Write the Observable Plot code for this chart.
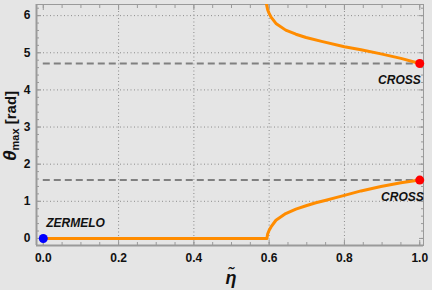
<!DOCTYPE html>
<html><head><meta charset="utf-8">
<script src="https://cdn.jsdelivr.net/npm/d3@7"></script>
<script src="https://cdn.jsdelivr.net/npm/@observablehq/plot@0.6"></script>
<style>
html,body{margin:0;padding:0;background:#e5e5e5;}
svg{display:block;}
</style></head><body><div id="chart"></div>
<script>
// Lower branch
const lowEta   = [0, 0.594, 0.596, 0.600, 0.605, 0.618, 0.644, 0.671, 0.698, 0.724, 0.751, 0.777, 0.800, 0.844, 0.897, 0.950, 1.000];
const lowTheta = [0, 0,     0.12,  0.22,  0.31,  0.49,  0.67,  0.79,  0.88,  0.96,  1.03,  1.10,  1.16,  1.28,  1.40,  1.50,  1.571];
// Upper branch
const upEta   = [0.593, 0.596, 0.600, 0.605, 0.618, 0.644, 0.671, 0.698, 0.742, 0.800, 0.844, 0.897, 0.950, 1.000];
const upTheta = [6.30,  6.16,  6.06,  5.96,  5.79,  5.61,  5.50,  5.41,  5.30,  5.16,  5.08,  4.97,  4.85,  4.712];
// Reference levels
const refLevels = [1.5708, 4.7124];
// Special points
const crossPts = [{eta: 1, theta: 1.5708}, {eta: 1, theta: 4.7124}];
const zermeloPt = [{eta: 0, theta: 0}];
const xTicks = [0, 0.2, 0.4, 0.6, 0.8, 1.0];
const yTicks = [0, 1, 2, 3, 4, 5, 6];

const low = lowEta.map((e, i) => ({eta: e, theta: lowTheta[i]}));
const up = upEta.map((e, i) => ({eta: e, theta: upTheta[i]}));
const xMinor = d3.range(0, 1.0001, 0.05);
const yMinor = d3.range(0, 6.3, 0.2);
const frameCol = "#9a9a9a";
const font = "'Liberation Sans', Arial, sans-serif";

const plot = Plot.plot({
  width: 432, height: 290,
  marginLeft: 36, marginRight: 9, marginTop: 4, marginBottom: 45,
  style: {background: "#e5e5e5", fontFamily: font, fontSize: "11px", fontWeight: "bold", color: "#111"},
  x: {domain: [-0.018, 1.01]},
  y: {domain: [-0.19, 6.3]},
  marks: [
    Plot.gridX([0.2, 0.4, 0.6, 0.8], {stroke: "#8c8c8c", strokeOpacity: 1, strokeDasharray: "1,2.5"}),
    Plot.gridY([1, 2, 3, 4, 5, 6], {stroke: "#8c8c8c", strokeOpacity: 1, strokeDasharray: "1,2.5"}),
    Plot.frame({stroke: frameCol, strokeWidth: 1}),
    // minor ticks (inward)
    Plot.axisX(xMinor, {anchor: "bottom", tickSize: -3, text: null, stroke: frameCol, label: null}),
    Plot.axisX(xMinor, {anchor: "top", tickSize: -3, text: null, stroke: frameCol, label: null}),
    Plot.axisY(yMinor, {anchor: "left", tickSize: -3, text: null, stroke: frameCol, label: null}),
    Plot.axisY(yMinor, {anchor: "right", tickSize: -3, text: null, stroke: frameCol, label: null}),
    // major ticks
    Plot.axisX(xTicks, {anchor: "bottom", tickSize: -5, text: null, stroke: frameCol, label: null}),
    Plot.axisX(xTicks, {anchor: "top", tickSize: -5, text: null, stroke: frameCol, label: null}),
    Plot.axisY(yTicks, {anchor: "left", tickSize: -5, text: null, stroke: frameCol, label: null}),
    Plot.axisY(yTicks, {anchor: "right", tickSize: -5, text: null, stroke: frameCol, label: null}),
    // labels
    Plot.axisX(xTicks, {anchor: "bottom", tickSize: 0, tickPadding: 8, tickFormat: d3.format(".1f"), label: null, fontWeight: "bold", fontSize: 12, fill: "#111"}),
    Plot.axisY(yTicks, {anchor: "left", tickSize: 0, tickPadding: 6, tickFormat: d3.format("d"), label: null, fontWeight: "bold", fontSize: 12, fill: "#111"}),
    // heavier left & bottom frame
    Plot.ruleX([-0.018], {stroke: frameCol, strokeWidth: 2}),
    Plot.ruleY([-0.19], {stroke: frameCol, strokeWidth: 2}),
    // dashed reference lines
    Plot.ruleY(refLevels, {x1: 0, x2: 1, stroke: "#808080", strokeWidth: 2, strokeDasharray: "7,4"}),
    // curves
    Plot.line(low, {x: "eta", y: "theta", stroke: "#ff8c00", strokeWidth: 3, clip: true}),
    Plot.line(up, {x: "eta", y: "theta", stroke: "#ff8c00", strokeWidth: 3, clip: true}),
    Plot.dot(crossPts, {x: "eta", y: "theta", r: 4.5, fill: "#ff0000", stroke: "none"}),
    Plot.dot(zermeloPt, {x: "eta", y: "theta", r: 4.5, fill: "#0000ff", stroke: "none"}),
    Plot.text([crossPts[0]], {x: "eta", y: "theta", text: () => "CROSS", textAnchor: "end", dx: 4, dy: 17, fontWeight: "bold", fontStyle: "italic", fontSize: 12, fill: "#111"}),
    Plot.text([crossPts[1]], {x: "eta", y: "theta", text: () => "CROSS", textAnchor: "end", dx: 1, dy: 17, fontWeight: "bold", fontStyle: "italic", fontSize: 12, fill: "#111"}),
    Plot.text(zermeloPt, {x: "eta", y: "theta", text: () => "ZERMELO", textAnchor: "start", dx: 3, dy: -15, fontWeight: "bold", fontStyle: "italic", fontSize: 12, fill: "#111"})
  ]
});

// axis titles with rich formatting
const svg = d3.select(plot);
svg.append("text")
  .attr("x", 231).attr("y", 284)
  .attr("text-anchor", "middle")
  .attr("font-family", font).attr("font-size", 18).attr("font-weight", "bold").attr("font-style", "italic")
  .attr("fill", "#111")
  .text("η\u0303");
const yl = svg.append("text")
  .attr("transform", "translate(16,126) rotate(-90)")
  .attr("text-anchor", "middle")
  .attr("font-family", font).attr("fill", "#111");
yl.append("tspan").attr("font-size", 19).attr("font-weight", "bold").attr("font-style", "italic").text("θ");
yl.append("tspan").attr("font-size", 11).attr("dy", 3).text("max");
yl.append("tspan").attr("font-size", 15).attr("font-weight", "bold").attr("dy", -3).text(" [rad]");

document.getElementById("chart").appendChild(plot);
</script></body></html>
